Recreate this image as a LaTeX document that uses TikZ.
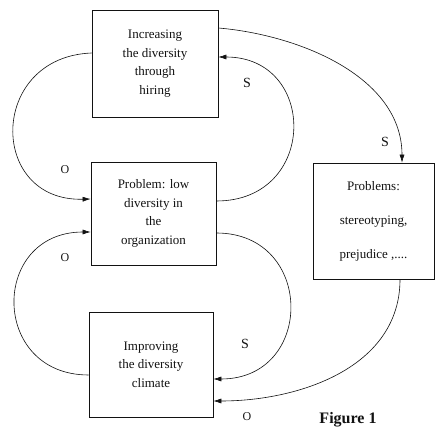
\documentclass[tikz,border=0pt]{standalone}
\usepackage{fontspec}
\setmainfont{Liberation Serif}
\usetikzlibrary{arrows.meta}
\usetikzlibrary{positioning}

\begin{document}
\begin{tikzpicture}[x=1pt, y=1pt]
	\definecolor{WHITE}{RGB}{255, 255, 255}
	\definecolor{ALMOST_BLACK}{RGB}{18, 18, 18}
	\tikzset{
		box/.style={draw=ALMOST_BLACK, line width=0.7pt, rectangle, align=center, inner sep=0pt, text=ALMOST_BLACK, font=\fontsize{13}{18.5}\selectfont},
		widebox/.style={box, font=\fontsize{13}{34}\selectfont},
		link/.style={draw=ALMOST_BLACK, line width=0.6pt, -{Latex[length=8pt, width=5pt]}},
		sign/.style={text=ALMOST_BLACK, inner sep=0pt, font=\fontsize{14}{14}\selectfont},
		osign/.style={sign, font=\fontsize{12}{12}\selectfont}
	}
	\fill[WHITE] (0, 0) rectangle (435, 427);
	\useasboundingbox (0, 0) rectangle (435, 427);

	\node[box, minimum width=126, minimum height=107] (hiring) at (155, 363.5)
		{Increasing\\the diversity\\through\\hiring};
	\node[box, minimum width=125, minimum height=103] (problem) at (153.5, 213.5)
		{Problem: low\\diversity in\\the\\organization};
	\node[box, minimum width=124, minimum height=105] (climate) at (151, 62.5)
		{Improving\\the diversity\\climate};
	\node[widebox, minimum width=121, minimum height=116] (problems) at (373.5, 206)
		{Problems:\\stereotyping,\\prejudice ,....};

	\draw[link] ([yshift=10.5]hiring.west) .. controls (-12, 370) and (-12, 225) .. ([yshift=14.5]problem.west);
	\draw[link] ([yshift=12.5]problem.east) .. controls (318, 226) and (318, 370) .. ([yshift=6.5]hiring.east);
	\draw[link] ([yshift=35.5]hiring.east) .. controls (300, 392) and (402, 350) .. ([xshift=28.5]problems.north);
	\draw[link] ([yshift=-19.5]problem.east) .. controls (315, 194) and (315, 48) .. ([yshift=-14.5]climate.east);
	\draw[link] ([yshift=-10.5]climate.west) .. controls (-10, 52) and (-10, 195) .. ([yshift=-18.5]problem.west);
	\draw[link] ([xshift=26.5]problems.south) .. controls (400, 60) and (300, 26) .. ([yshift=-36.5]climate.east);

	\node[osign] (o-hire) at (65, 257) {O};
	\node[sign] (s-hire) at (247, 344) {S};
	\node[sign] (s-prob) at (385, 285) {S};
	\node[sign] (s-clim) at (245, 83) {S};
	\node[osign] (o-clim) at (65, 169) {O};
	\node[osign] (o-prob) at (247, 10) {O};
	\node[text=ALMOST_BLACK, inner sep=0pt, anchor=base, font=\fontsize{16}{16}\bfseries] (caption) at (348, 4) {Figure 1};
\end{tikzpicture}
\end{document}
